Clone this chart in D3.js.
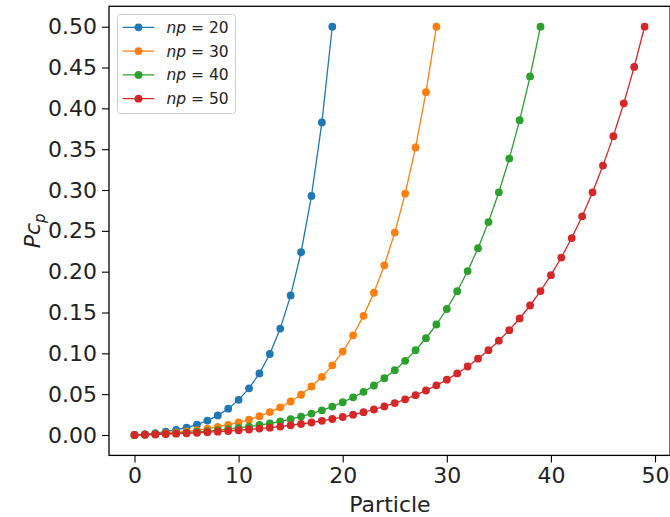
<!DOCTYPE html>
<html>
<head>
<meta charset="utf-8">
<script src="https://cdn.jsdelivr.net/npm/d3@7"></script>
<style>
  html, body { margin: 0; padding: 0; background: #fff; }
  svg { display: block; font-family: "DejaVu Sans", sans-serif; }
</style>
</head>
<body>
<svg id="chart" width="670" height="517"></svg>
<script>
// ---- data ----
const seriesNames = ["20", "30", "40", "50"];
const colors = ["#1f77b4", "#ff7f0e", "#2ca02c", "#d62728"];
const np20 = [0.0000,0.0010,0.0023,0.0040,0.0062,0.0091,0.0128,0.0176,0.0240,0.0322,
              0.0430,0.0571,0.0754,0.0992,0.1303,0.1709,0.2238,0.2928,0.3828,0.5];
const np30 = [0.0000,0.0007,0.0014,0.0023,0.0033,0.0045,0.0060,0.0077,0.0098,0.0124,
              0.0153,0.0188,0.0230,0.0280,0.0339,0.0410,0.0493,0.0594,0.0712,0.0853,
              0.1021,0.1221,0.1459,0.1742,0.2078,0.2479,0.2956,0.3522,0.4198,0.5];
const np40 = [0.0000,0.0004,0.0009,0.0015,0.0022,0.0029,0.0038,0.0048,0.0059,0.0071,
              0.0087,0.0103,0.0122,0.0143,0.0167,0.0194,0.0226,0.0262,0.0302,0.0348,
              0.0401,0.0461,0.0528,0.0606,0.0695,0.0794,0.0908,0.1038,0.1185,0.1353,
              0.1543,0.1761,0.2007,0.2288,0.2608,0.2972,0.3385,0.3855,0.4391,0.5];
const np50 = [0.0000,0.0003,0.0007,0.0012,0.0016,0.0021,0.0027,0.0034,0.0041,0.0049,
              0.0058,0.0067,0.0078,0.0090,0.0103,0.0119,0.0135,0.0153,0.0173,0.0196,
              0.0220,0.0249,0.0279,0.0312,0.0350,0.0391,0.0437,0.0488,0.0545,0.0608,
              0.0677,0.0754,0.0839,0.0934,0.1039,0.1155,0.1284,0.1427,0.1586,0.1762,
              0.1957,0.2173,0.2412,0.2678,0.2972,0.3299,0.3660,0.4062,0.4507,0.5];
const xTicks = [0, 10, 20, 30, 40, 50];
const yTicks = [0.00, 0.05, 0.10, 0.15, 0.20, 0.25, 0.30, 0.35, 0.40, 0.45, 0.50];
const xLabel = "Particle";

const allSeries = [np20, np30, np40, np50];

// ---- layout ----
const svg = d3.select("#chart");
const padL = 109, padR = 670.1, padT = 6.3, padB = 455.4;

const x = d3.scaleLinear().domain([-2.45, 51.45]).range([padL, padR]);
const y = d3.scaleLinear().domain([-0.025, 0.525]).range([padB, padT]);

// axes
const xAxis = d3.axisBottom(x).tickValues(xTicks).tickFormat(d3.format("d")).tickSizeOuter(0).tickSize(7).tickPadding(5);
const yAxis = d3.axisLeft(y).tickValues(yTicks).tickFormat(d3.format(".2f")).tickSizeOuter(0).tickSize(7).tickPadding(5);

const gx = svg.append("g").attr("transform", `translate(0,${padB})`).call(xAxis);
const gy = svg.append("g").attr("transform", `translate(${padL},0)`).call(yAxis);
[gx, gy].forEach(g => {
  g.select(".domain").remove();
  g.selectAll(".tick line").attr("stroke", "#000").attr("stroke-width", 1.1);
  g.selectAll(".tick text").attr("font-size", 22).attr("fill", "#222").attr("font-family", "DejaVu Sans");
});

// spines
svg.append("rect")
  .attr("x", padL).attr("y", padT)
  .attr("width", padR - padL).attr("height", padB - padT)
  .attr("fill", "none").attr("stroke", "#000").attr("stroke-width", 1.3);

// series
const line = d3.line().x((d, i) => x(i)).y(d => y(d));
allSeries.forEach((vals, si) => {
  const g = svg.append("g");
  g.append("path").datum(vals)
    .attr("d", line)
    .attr("fill", "none")
    .attr("stroke", colors[si])
    .attr("stroke-width", 1.3);
  g.selectAll("circle").data(vals).enter().append("circle")
    .attr("cx", (d, i) => x(i))
    .attr("cy", d => y(d))
    .attr("r", 3.9)
    .attr("fill", colors[si]);
});

// axis labels
svg.append("text")
  .attr("x", 390).attr("y", 512)
  .attr("text-anchor", "middle")
  .attr("font-size", 22).attr("fill", "#222")
  .text(xLabel);

const yl = svg.append("text")
  .attr("transform", `translate(40,${y(0.25)}) rotate(-90)`)
  .attr("text-anchor", "middle")
  .attr("font-size", 22).attr("fill", "#222")
  .attr("font-style", "italic");
yl.append("tspan").text("Pc");
yl.append("tspan").attr("font-size", 15).attr("dy", 5).text("p");

// legend
const lg = svg.append("g");
lg.append("rect")
  .attr("x", 117.5).attr("y", 14.5).attr("width", 118).attr("height", 99)
  .attr("rx", 3).attr("fill", "#fff").attr("fill-opacity", 0.8)
  .attr("stroke", "#ccc").attr("stroke-width", 1);
seriesNames.forEach((name, i) => {
  const cy = 27.3 + i * 23.8;
  lg.append("line").attr("x1", 122.7).attr("x2", 154.3).attr("y1", cy).attr("y2", cy)
    .attr("stroke", colors[i]).attr("stroke-width", 1.3);
  lg.append("circle").attr("cx", 138.5).attr("cy", cy).attr("r", 3.9).attr("fill", colors[i]);
  const t = lg.append("text").attr("x", 166.5).attr("y", cy + 5.5)
    .attr("font-size", 15.5).attr("fill", "#222");
  t.append("tspan").attr("font-style", "italic").text("np");
  t.append("tspan").text(" = " + name);
});
</script>
</body>
</html>
